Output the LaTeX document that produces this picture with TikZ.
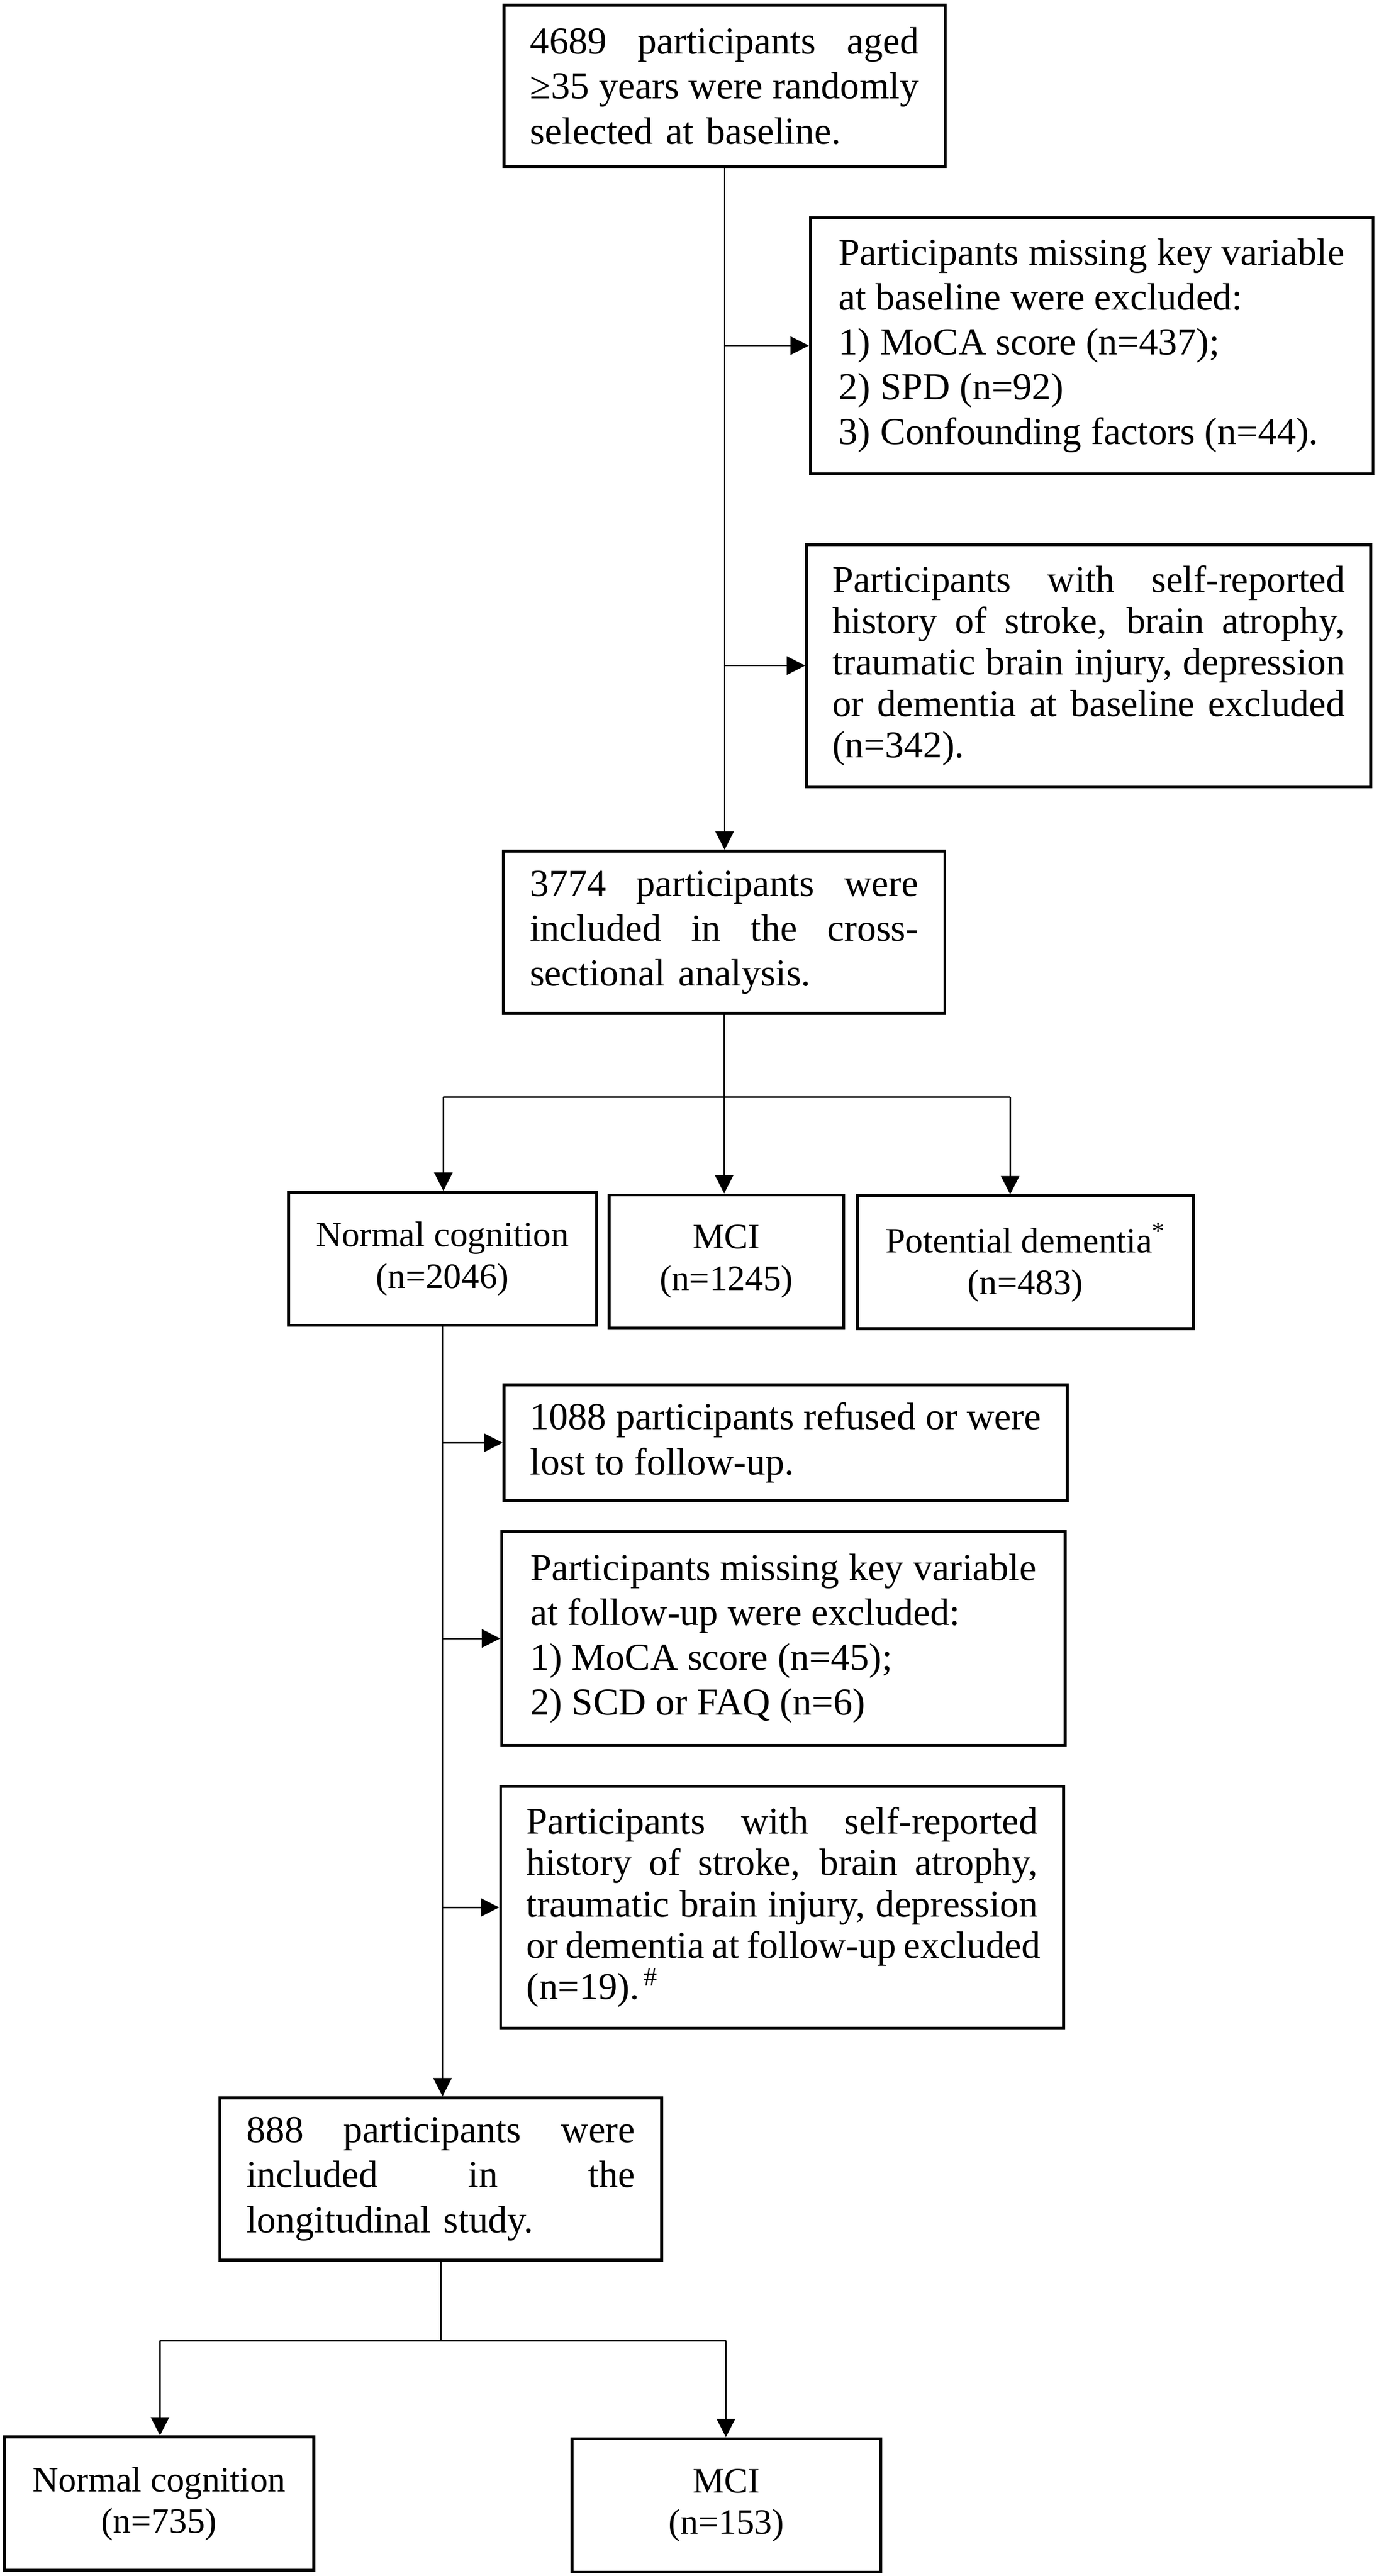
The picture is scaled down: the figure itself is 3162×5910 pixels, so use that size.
\documentclass[tikz,border=0pt]{standalone}
\usepackage{fontspec}
\setmainfont{Liberation Serif}
\usetikzlibrary{arrows.meta}
\newcommand\jl[2][8.91cm]{\makebox[#1][s]{\spaceskip=0.25em plus 1fil minus 0.05em\relax #2}}
\newcommand\bigtxt{\fontsize{24.9pt}{29.3pt}\selectfont}
\newcommand\tighttxt{\fontsize{24.7pt}{27pt}\selectfont}
\newcommand\smalltxt{\fontsize{23.3pt}{27pt}\selectfont}
\tikzset{
  box/.style={draw, line width=1.9pt, inner sep=0pt, font=\bigtxt, align=left},
  tbox/.style={box, font=\tighttxt},
  cbox/.style={draw, line width=1.9pt, inner sep=0pt, font=\smalltxt, align=center, minimum height=3.05cm},
  conn/.style={line width=0.9pt},
  arr/.style={line width=0.9pt, -{Triangle[length=12pt,width=12pt]}}
}
\begin{document}
\begin{tikzpicture}[x=0.01cm,y=-0.01cm]
\useasboundingbox (0,0) rectangle (3162,5910);

% top part
\node[box, minimum width=10.12cm, minimum height=3.70cm, text width=8.91cm] (A) at (1662,197)
 {\jl{4689 participants aged}\\\jl{≥35 years were randomly}\\selected at baseline.};
\node[box, minimum width=12.90cm, minimum height=5.87cm] (B) at (2504,793)
 {Participants missing key variable\\at baseline were excluded:\\1) MoCA score (n=437);\\2) SPD (n=92)\\3) Confounding factors (n=44).};
\node[tbox, minimum width=12.93cm, minimum height=5.55cm, text width=11.75cm] (C) at (2497,1527)
 {\jl[11.75cm]{Participants with self-reported}\\\jl[11.75cm]{history of stroke, brain atrophy,}\\\jl[11.75cm]{traumatic brain injury, depression}\\\jl[11.75cm]{or dementia at baseline excluded}\\(n=342).};
\node[box, minimum width=10.12cm, minimum height=3.72cm, text width=8.91cm] (D) at (1661,2139)
 {\jl{3774 participants were}\\\jl{included in the cross-}\\sectional analysis.};

% categories
\node[cbox, minimum width=7.06cm] (E) at (1015,2888) {Normal cognition\\(n=2046)};
\node[cbox, minimum width=5.38cm] (F) at (1666,2894) {MCI\\(n=1245)};
\node[cbox, minimum width=7.70cm] (G) at (2352,2896) {Potential dementia\textsuperscript{*}\\(n=483)};

% follow-up exclusions
\node[box, minimum width=12.91cm, minimum height=2.66cm] (H) at (1802,3310)
 {1088 participants refused or were\\lost to follow-up.};
\node[box, minimum width=12.92cm, minimum height=4.91cm] (I) at (1797,3759)
 {Participants missing key variable\\at follow-up were excluded:\\1) MoCA score (n=45);\\2) SCD or FAQ (n=6)};
\node[tbox, minimum width=12.91cm, minimum height=5.55cm, text width=11.72cm] (J) at (1794,4376)
 {\jl[11.72cm]{Participants with self-reported}\\\jl[11.72cm]{history of stroke, brain atrophy,}\\\jl[11.72cm]{traumatic brain injury, depression}\\\jl[11.72cm]{or dementia at follow-up excluded}\\(n=19).\kern0.12em\textsuperscript{\#}};
\node[box, minimum width=10.13cm, minimum height=3.72cm, text width=8.91cm] (K) at (1011,4999)
 {\jl{888 participants were}\\\jl{included in the}\\longitudinal study.};

% outcomes
\node[cbox, minimum width=7.09cm, minimum height=3.06cm] (L) at (365,5744) {Normal cognition\\(n=735)};
\node[cbox, minimum width=7.07cm, minimum height=3.06cm] (M) at (1666,5748) {MCI\\(n=153)};

% connectors, top trunk
\draw[arr] (A.south) -- (A.south |- D.north);
\draw[arr] (A.south |- B.west) -- (B.west);
\draw[arr] (A.south |- C.west) -- (C.west);

% split into three
\coordinate (bl1) at (1017,2517);
\coordinate (br1) at (2317,2517);
\draw[conn] (bl1) -- (br1);
\draw[arr] (D.south) -- (D.south |- F.north);
\draw[arr] (bl1) -- (bl1 |- E.north);
\draw[arr] (br1) -- (br1 |- G.north);

% lower trunk
\draw[arr] (E.south) -- (E.south |- K.north);
\draw[arr] (E.south |- H.west) -- (H.west);
\draw[arr] (E.south |- I.west) -- (I.west);
\draw[arr] (E.south |- J.west) -- (J.west);

% final split
\coordinate (bl2) at (367,5370);
\coordinate (br2) at (1665,5370);
\draw[conn] (K.south) -- (K.south |- bl2);
\draw[conn] (bl2) -- (br2);
\draw[arr] (bl2) -- (bl2 |- L.north);
\draw[arr] (br2) -- (br2 |- M.north);
\end{tikzpicture}
\end{document}
